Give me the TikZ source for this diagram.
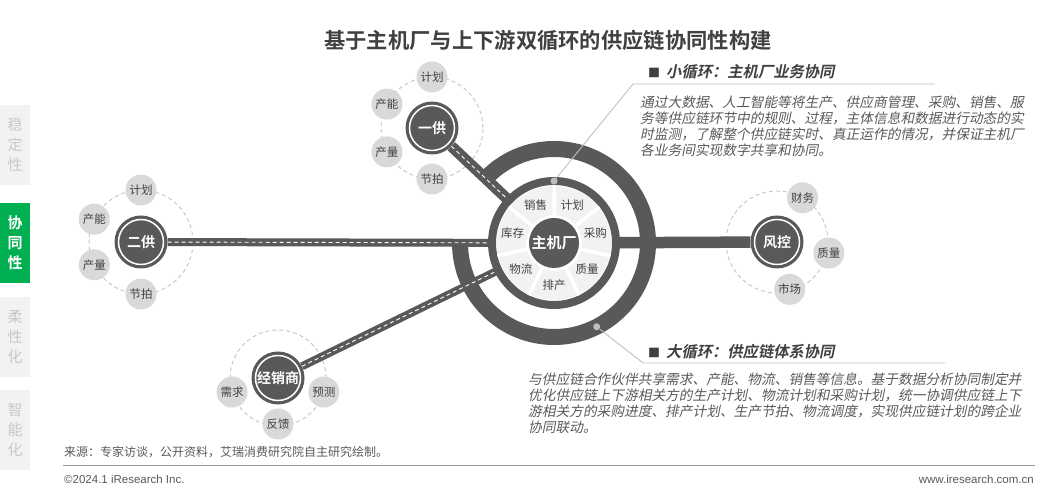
\documentclass[tikz,border=0pt]{standalone}
\usepackage{fontspec}
\usepackage{tikz}
\usetikzlibrary{positioning,calc}
\setmainfont{Noto Sans CJK SC}
\newfontfamily\cjkb{Noto Sans CJK SC Bold}
\newfontfamily\cjkit[FakeSlant=0.2]{Noto Sans CJK SC}
\newfontfamily\cjkbit[FakeSlant=0.2]{Noto Sans CJK SC Bold}
\newfontfamily\lat{Liberation Sans}
\definecolor{darkring}{RGB}{89, 89, 89}
\definecolor{satgray}{RGB}{217, 217, 217}
\definecolor{dashgray}{RGB}{195, 195, 195}
\definecolor{secfill}{RGB}{242, 242, 242}
\definecolor{textgray}{RGB}{64, 64, 64}
\definecolor{bodygray}{RGB}{89, 89, 89}
\definecolor{linegray}{RGB}{191, 191, 191}
\definecolor{tabtext}{RGB}{200, 200, 200}
\definecolor{tabgreen}{RGB}{0, 176, 80}

\begin{document}
\begin{tikzpicture}[
    x=1pt, y=1pt,
    hub/.style={circle, fill=darkring, minimum size=53pt, inner sep=0pt, text=white,
        font=\cjkb\fontsize{14}{16}\selectfont,
        path picture={\draw[white, line width=1.5pt] (path picture bounding box.center) circle[radius=22.5pt];}},
    core/.style={circle, fill=darkring, minimum size=50pt, inner sep=0pt, text=white,
        font=\cjkb\fontsize{15}{17}\selectfont},
    sat/.style={circle, fill=satgray, minimum size=31pt, inner sep=0pt, text=textgray,
        font=\fontsize{11.5}{13}\selectfont},
    seclabel/.style={inner sep=0pt, text=textgray, font=\fontsize{11.5}{13}\selectfont},
    dashring/.style={draw=dashgray, line width=0.9pt, dash pattern=on 4pt off 3pt},
    road/.style={draw=darkring, line width=#1},
    laneline/.style={draw=white, line width=0.9pt, dash pattern=on 4pt off 3pt},
    callout/.style={draw=linegray, line width=0.9pt},
    dot/.style={circle, fill=linegray, minimum size=7pt, inner sep=0pt},
    heading/.style={anchor=west, inner sep=0pt, text=textgray, font=\cjkbit\fontsize{15.3}{17}\selectfont},
    body/.style={anchor=north west, inner sep=0pt, align=left, text=bodygray,
        font=\cjkit\fontsize{13.7}{16}\selectfont},
    tab/.style={fill=secfill, minimum width=30pt, minimum height=80pt, inner sep=0pt, align=center,
        text=tabtext, font=\fontsize{15}{20}\selectfont}
]
\useasboundingbox (0,0) rectangle (1060,492);
% title
\node[text=textgray, font=\cjkb\fontsize{21.3}{24}\selectfont] (title) at (548,452) {基于主机厂与上下游双循环的供应链协同性构建};

% side tabs
\node[tab] (tab1) at (15,347) {稳\\定\\性};
\node[tab, fill=tabgreen, text=white, font=\cjkb\fontsize{15}{20}\selectfont] (tab2) at (15,249) {协\\同\\性};
\node[tab] (tab3) at (15,155) {柔\\性\\化};
\node[tab] (tab4) at (15,62) {智\\能\\化};

% outer loop
\coordinate (c) at (554,249);
\draw[darkring, line width=16pt] ([shift={(180:94)}]c) arc[start angle=180, end angle=497, radius=94];

% hubs
\node[hub] (yigong) at (432,364) {一供};
\node[hub] (ergong) at (141,250) {二供};
\node[hub] (jxs) at (278,114) {经销商};
\node[hub] (fengkong) at (777,250) {风控};

\draw[dashring] (yigong) circle[radius=51];
\draw[dashring] (ergong) circle[radius=52];
\draw[dashring] (jxs) circle[radius=48];
\draw[dashring] (fengkong) circle[radius=51];

\node[sat] (yg1) at ([shift={(90:51)}]yigong) {计划};
\node[sat] (yg2) at ([shift={(152:51)}]yigong) {产能};
\node[sat] (yg3) at ([shift={(208:51)}]yigong) {产量};
\node[sat] (yg4) at ([shift={(270:51)}]yigong) {节拍};
\node[sat] (eg1) at ([shift={(90:52)}]ergong) {计划};
\node[sat] (eg2) at ([shift={(154:52)}]ergong) {产能};
\node[sat] (eg3) at ([shift={(206:52)}]ergong) {产量};
\node[sat] (eg4) at ([shift={(270:52)}]ergong) {节拍};
\node[sat] (jx1) at ([shift={(197:48)}]jxs) {需求};
\node[sat] (jx2) at ([shift={(270:46)}]jxs) {反馈};
\node[sat] (jx3) at ([shift={(343:48)}]jxs) {预测};
\node[sat] (fk1) at ([shift={(60:51)}]fengkong) {财务};
\node[sat] (fk2) at ([shift={(-12:53)}]fengkong) {质量};
\node[sat] (fk3) at ([shift={(-75:49)}]fengkong) {市场};

% roads to the core
\draw[road=11pt] (yigong) -- (c);
\draw[laneline] (yigong) -- (c);
\draw[road=8pt] (ergong) -- (c);
\draw[laneline] (ergong) -- (c);
\draw[road=8pt] (jxs) -- (c);
\draw[laneline] (jxs) -- (c);
\draw[road=11.5pt] (fengkong) -- (c);

% inner loop
\draw[darkring, fill=white, line width=8pt] (c) circle[radius=62];
\fill[secfill, even odd rule] (c) circle[radius=57] (c) circle[radius=28];
\draw[white, line width=3.5pt]
    ([shift={(-64.29:27)}]c) -- ([shift={(-64.29:58)}]c)
    ([shift={(-12.86:27)}]c) -- ([shift={(-12.86:58)}]c)
    ([shift={(38.57:27)}]c) -- ([shift={(38.57:58)}]c)
    ([shift={(90:27)}]c) -- ([shift={(90:58)}]c)
    ([shift={(141.43:27)}]c) -- ([shift={(141.43:58)}]c)
    ([shift={(192.86:27)}]c) -- ([shift={(192.86:58)}]c)
    ([shift={(244.29:27)}]c) -- ([shift={(244.29:58)}]c);
\node[seclabel] (s1) at ([shift={(-90:42.5)}]c) {排产};
\node[seclabel] (s2) at ([shift={(-38.57:42.5)}]c) {质量};
\node[seclabel] (s3) at ([shift={(12.86:42.5)}]c) {采购};
\node[seclabel] (s4) at ([shift={(64.29:42.5)}]c) {计划};
\node[seclabel] (s5) at ([shift={(115.71:42.5)}]c) {销售};
\node[seclabel] (s6) at ([shift={(167.14:42.5)}]c) {库存};
\node[seclabel] (s7) at ([shift={(218.57:42.5)}]c) {物流};
\node[core] (zjc) at (c) {主机厂};

% callout: small loop
\node[dot] (d1) at ([shift={(90:62)}]c) {};
\coordinate (k1) at (633,408);
\coordinate (e1) at (935,408);
\draw[callout] (d1) -- (k1) -- (e1);
\node[heading] (h1) at (648,420) {{\normalfont\fontsize{12}{14}\selectfont ■}\hspace{6pt}小循环：主机厂业务协同};
\node[body] (b1) at (640,396) {通过大数据、人工智能等将生产、供应商管理、采购、销售、服\\
务等供应链环节中的规则、过程，主体信息和数据进行动态的实\\
时监测，了解整个供应链实时、真正运作的情况，并保证主机厂\\
各业务间实现数字共享和协同。};

% callout: large loop
\node[dot] (d2) at ([shift={(-63:94)}]c) {};
\coordinate (k2) at (643,129);
\coordinate (e2) at (945,129);
\draw[callout] (d2) -- (k2) -- (e2);
\node[heading] (h2) at (648,140) {{\normalfont\fontsize{12}{14}\selectfont ■}\hspace{6pt}大循环：供应链体系协同};
\node[body] (b2) at (528,119) {与供应链合作伙伴共享需求、产能、物流、销售等信息。基于数据分析协同制定并\\
优化供应链上下游相关方的生产计划、物流计划和采购计划，统一协调供应链上下\\
游相关方的采购进度、排产计划、生产节拍、物流调度，实现供应链计划的跨企业\\
协同联动。};

% footer
\node[anchor=west, inner sep=0pt, text=bodygray, font=\fontsize{12}{13}\selectfont] (src) at (64,40) {来源：专家访谈，公开资料，艾瑞消费研究院自主研究绘制。};
\draw[linegray!80!black, line width=1pt] (63,26) -- (1035,26);
\node[anchor=west, inner sep=0pt, text=bodygray, font=\lat\fontsize{11.5}{13}\selectfont] (copy) at (64,13) {©2024.1 iResearch Inc.};
\node[anchor=east, inner sep=0pt, text=bodygray, font=\lat\fontsize{11.5}{13}\selectfont] (web) at (1034,13) {www.iresearch.com.cn};
\end{tikzpicture}
\end{document}
